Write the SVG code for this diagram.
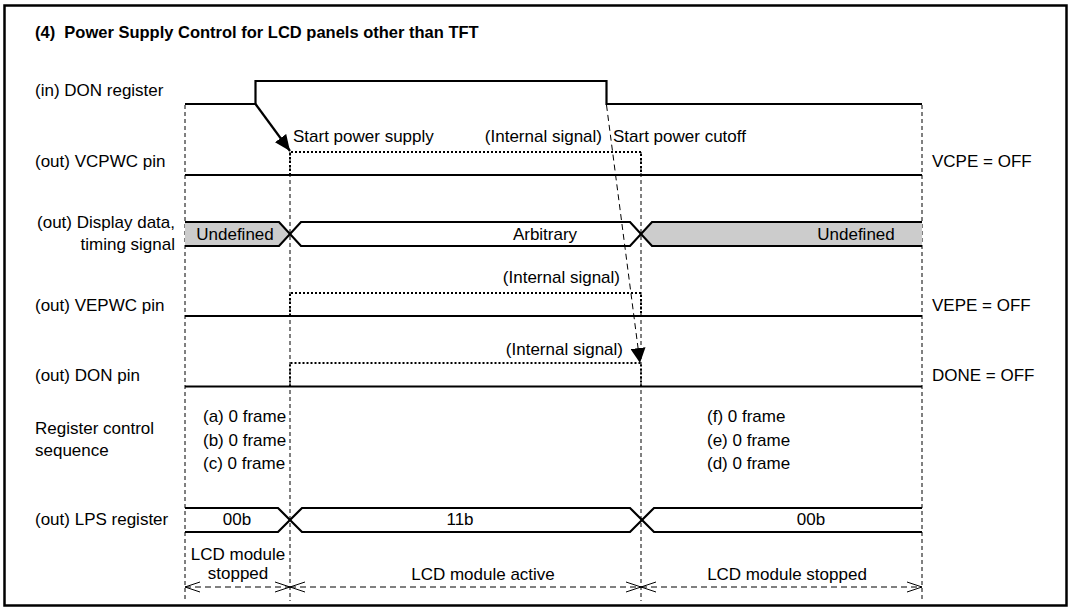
<svg xmlns="http://www.w3.org/2000/svg" width="1073" height="612" viewBox="0 0 1073 612">
<style>
text{font-family:"Liberation Sans",Arial,sans-serif;font-size:17px;fill:#000}
.title{font-weight:bold;font-size:16.5px}
.sig{fill:none;stroke:#000;stroke-width:2.2;stroke-linejoin:miter}
.int{fill:none;stroke:#000;stroke-width:2;stroke-dasharray:2 2}
.guide{fill:none;stroke:#000;stroke-width:1;stroke-dasharray:4 3}
.dash{fill:none;stroke:#000;stroke-width:1;stroke-dasharray:6 4}
.head{fill:none;stroke:#000;stroke-width:1}
.undef{fill:#cccccc;stroke:none}
.e{text-anchor:end}
.m{text-anchor:middle}
</style>
<defs>
<marker id="fill-arrow" viewBox="0 0 16 14" refX="16" refY="7" markerWidth="16" markerHeight="14" markerUnits="userSpaceOnUse" orient="auto">
<path d="M0,0 L16,7 L0,14 Z" fill="#000"/>
</marker>
<marker id="fill-arrow2" viewBox="0 0 15 15" refX="15" refY="7.5" markerWidth="15" markerHeight="15" markerUnits="userSpaceOnUse" orient="auto">
<path d="M0,0 L15,7.5 L0,15 Z" fill="#000"/>
</marker>
</defs>
<rect x="4.5" y="5.5" width="1062" height="600" fill="#fff" stroke="#000" stroke-width="2.5"/>
<text class="title" x="35" y="38" xml:space="preserve">(4)  Power Supply Control for LCD panels other than TFT</text>

<g id="guides">
<line class="guide" x1="185" y1="105" x2="185" y2="601"/>
<line class="guide" x1="290" y1="152" x2="290" y2="601"/>
<line class="guide" x1="641" y1="152" x2="641" y2="601"/>
<line class="guide" x1="922" y1="105" x2="922" y2="601"/>
</g>

<g id="don-register">
<text x="35" y="96">(in) DON register</text>
<polyline class="sig" points="185,104 255.5,104 255.5,81 606.5,81 606.5,104 922,104"/>
</g>

<g id="vcpwc-pin">
<text x="35" y="167">(out) VCPWC pin</text>
<line class="sig" x1="185" y1="175" x2="922" y2="175"/>
<polyline class="int" points="290,175 290,152 641,152 641,175"/>
<text x="293" y="142">Start power supply</text>
<text class="e" x="602" y="142">(Internal signal)</text>
<text x="613" y="142">Start power cutoff</text>
<text x="932" y="167">VCPE = OFF</text>
</g>

<g id="display-data">
<text class="e" x="175" y="228">(out) Display data,</text>
<text class="e" x="175" y="250">timing signal</text>
<polygon class="undef" points="185,222 279,222 290,234 279,246 185,246"/>
<polygon class="undef" points="641,234 652,222 922,222 922,246 652,246"/>
<polyline class="sig" points="185,222 279,222 301,246 630,246 652,222 922,222"/>
<polyline class="sig" points="185,246 279,246 301,222 630,222 652,246 922,246"/>
<text class="m" x="235" y="240">Undefined</text>
<text class="m" x="545" y="240">Arbitrary</text>
<text class="m" x="856" y="240">Undefined</text>
</g>

<g id="vepwc-pin">
<text x="35" y="311">(out) VEPWC pin</text>
<line class="sig" x1="185" y1="316" x2="922" y2="316"/>
<polyline class="int" points="290,316 290,293 641,293 641,316"/>
<text class="e" x="620" y="283">(Internal signal)</text>
<text x="932" y="311">VEPE = OFF</text>
</g>

<g id="don-pin">
<text x="35" y="381">(out) DON pin</text>
<line class="sig" x1="185" y1="386.5" x2="922" y2="386.5"/>
<polyline class="int" points="290,386.5 290,363 641,363 641,386.5"/>
<text class="e" x="623" y="355">(Internal signal)</text>
<text x="932" y="381">DONE = OFF</text>
</g>

<g id="register-sequence">
<text x="35" y="434">Register control</text>
<text x="35" y="456">sequence</text>
<text x="203" y="422">(a) 0 frame</text>
<text x="203" y="446">(b) 0 frame</text>
<text x="203" y="469">(c) 0 frame</text>
<text x="707" y="422">(f) 0 frame</text>
<text x="707" y="446">(e) 0 frame</text>
<text x="707" y="469">(d) 0 frame</text>
</g>

<g id="lps-register">
<text x="35" y="525">(out) LPS register</text>
<polyline class="sig" points="185,508 278,508 302,532 630,532 654,508 922,508"/>
<polyline class="sig" points="185,532 278,532 302,508 630,508 654,532 922,532"/>
<text class="m" x="237" y="525">00b</text>
<text class="m" x="460" y="525">11b</text>
<text class="m" x="811" y="525">00b</text>
</g>

<g id="lcd-state">
<text class="m" x="238" y="560">LCD module</text>
<text class="m" x="238" y="579">stopped</text>
<text class="m" x="483" y="580">LCD module active</text>
<text class="m" x="787" y="580">LCD module stopped</text>
</g>

<g id="connectors">
<line class="sig" x1="255.5" y1="104" x2="290" y2="151" marker-end="url(#fill-arrow)"/>
<line class="dash" x1="606.5" y1="105" x2="640" y2="363" marker-end="url(#fill-arrow2)"/>
<line class="dash" x1="185" y1="587" x2="290" y2="587"/>
<line class="dash" x1="290" y1="587" x2="641" y2="587"/>
<line class="dash" x1="641" y1="587" x2="922" y2="587"/>
<polyline class="head" points="200,582 185,587 200,592"/>
<polyline class="head" points="275,582 290,587 275,592"/>
<polyline class="head" points="305,582 290,587 305,592"/>
<polyline class="head" points="626,582 641,587 626,592"/>
<polyline class="head" points="656,582 641,587 656,592"/>
<polyline class="head" points="907,582 922,587 907,592"/>
</g>
</svg>
